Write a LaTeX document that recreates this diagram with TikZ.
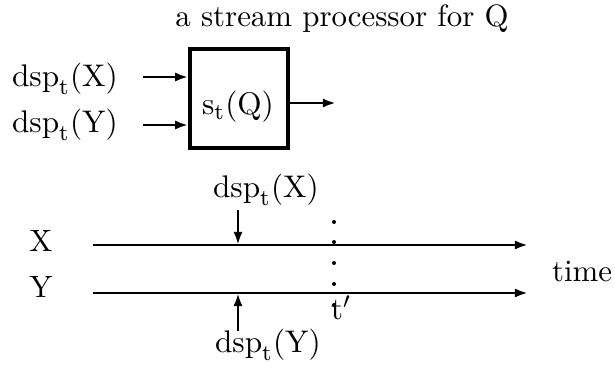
\documentclass[tikz,border=0pt]{standalone}
\usetikzlibrary{arrows.meta}
\begin{document}
\begin{tikzpicture}[x=0.35pt,y=-0.35pt,
  every node/.style={font=\fontsize{10.8pt}{13pt}\selectfont},
  lbl/.style={inner sep=0pt,anchor=base},
  arr/.style={line width=1pt,-{Latex[length=4.6pt,width=3.2pt]}},
  procbox/.style={draw,line width=1.2pt,minimum width=98*0.35pt,minimum height=99*0.35pt,inner sep=0pt},
  dotmark/.style={fill=black}]
\useasboundingbox (0,0) rectangle (615,374);
% title
\node[lbl] (title) at (342,27) {a stream processor for Q};
% processor box
\node[procbox] (box) at (239,98.5) {};
\node[lbl] (sq) at (238,115) {$\mathrm{s}_\mathrm{t}(\mathrm{Q})$};
% inputs
\node[lbl] (lx) at (65,87) {$\mathrm{dsp}_\mathrm{t}(\mathrm{X})$};
\node[lbl] (ly) at (65,133) {$\mathrm{dsp}_\mathrm{t}(\mathrm{Y})$};
\coordinate (inx) at (143,77);
\coordinate (iny) at (143,125);
\draw[arr] (inx) -- (inx -| box.west);
\draw[arr] (iny) -- (iny -| box.west);
\coordinate (outend) at (336,103);
\draw[arr] (outend -| box.east) -- (outend);
% timelines
\node[lbl] (sx) at (41,252) {X};
\node[lbl] (sy) at (41,298) {Y};
\node[lbl] (time) at (582,282) {time};
\coordinate (xs) at (93,245);
\coordinate (xe) at (528,245);
\coordinate (ys) at (93,293);
\coordinate (ye) at (528,293);
\draw[arr] (xs) -- (xe);
\draw[arr] (ys) -- (ye);
% dsp markers
\node[lbl] (dx) at (266,198) {$\mathrm{dsp}_\mathrm{t}(\mathrm{X})$};
\node[lbl] (dy) at (268,353) {$\mathrm{dsp}_\mathrm{t}(\mathrm{Y})$};
\coordinate (dxs) at (238,210);
\coordinate (dys) at (238,331);
\draw[arr] (dxs) -- (dxs |- xs);
\draw[arr] (dys) -- (dys |- ys);
% t' dotted marker
\foreach \yy in {222,242,263,284,305}
  \fill[dotmark] (334,\yy) circle (0.7pt);
\node[lbl] (tp) at (341,320) {$\mathrm{t}'$};
\end{tikzpicture}
\end{document}
